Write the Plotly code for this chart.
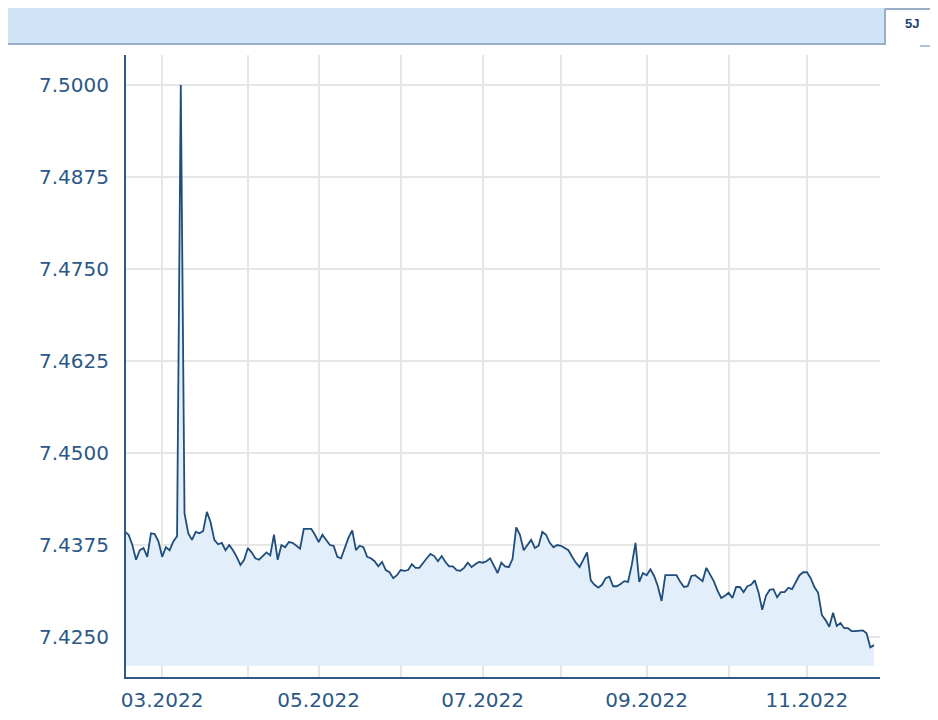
import pandas as pd
import plotly.graph_objects as go

# ---- data (daily rate, trading days) ----
START = "2022-02-15"
END = "2022-11-25"
HOLIDAYS = ["2022-04-15", "2022-04-18"]

feb_vals = [7.4393, 7.4389, 7.4375, 7.4355, 7.4368, 7.4371, 7.4359, 7.4391, 7.4390, 7.4380]
mar_vals = [7.4359, 7.4372, 7.4368, 7.4380, 7.4387, 7.5000, 7.4418, 7.4391, 7.4382, 7.4393,
            7.4391, 7.4394, 7.4420, 7.4406, 7.4382, 7.4376, 7.4378, 7.4368, 7.4375, 7.4368,
            7.4359, 7.4348, 7.4355]
apr_vals = [7.4371, 7.4365, 7.4357, 7.4355, 7.4360, 7.4365, 7.4361, 7.4389, 7.4355, 7.4375,
            7.4372, 7.4379, 7.4378, 7.4374, 7.4370, 7.4397, 7.4397, 7.4397, 7.4389]
may_vals = [7.4379, 7.4389, 7.4382, 7.4375, 7.4374, 7.4359, 7.4357, 7.4371, 7.4385, 7.4395,
            7.4368, 7.4374, 7.4372, 7.4359, 7.4357, 7.4353, 7.4346, 7.4352, 7.4341, 7.4338,
            7.4330, 7.4334]
jun_vals = [7.4341, 7.4340, 7.4341, 7.4349, 7.4344, 7.4344, 7.4351, 7.4357, 7.4363, 7.4360,
            7.4353, 7.4360, 7.4352, 7.4346, 7.4346, 7.4341, 7.4340, 7.4344, 7.4351, 7.4345,
            7.4349, 7.4352]
jul_vals = [7.4351, 7.4353, 7.4357, 7.4348, 7.4337, 7.4351, 7.4346, 7.4345, 7.4356, 7.4399,
            7.4389, 7.4368, 7.4375, 7.4382, 7.4371, 7.4374, 7.4393, 7.4389, 7.4378, 7.4372,
            7.4375]
aug_vals = [7.4374, 7.4371, 7.4368, 7.4359, 7.4351, 7.4345, 7.4355, 7.4365, 7.4327, 7.4321,
            7.4317, 7.4321, 7.4330, 7.4332, 7.4319, 7.4319, 7.4322, 7.4326, 7.4325, 7.4348,
            7.4378, 7.4325, 7.4337]
sep_vals = [7.4334, 7.4342, 7.4333, 7.4319, 7.4299, 7.4334, 7.4334, 7.4333, 7.4334, 7.4325,
            7.4318, 7.4319, 7.4333, 7.4334, 7.4330, 7.4326, 7.4344, 7.4334, 7.4326, 7.4313,
            7.4303, 7.4306]
oct_vals = [7.4310, 7.4303, 7.4318, 7.4318, 7.4311, 7.4319, 7.4321, 7.4327, 7.4311, 7.4287,
            7.4306, 7.4314, 7.4315, 7.4304, 7.4311, 7.4311, 7.4317, 7.4315, 7.4325, 7.4334,
            7.4338]
nov_vals = [7.4338, 7.4330, 7.4318, 7.4310, 7.4280, 7.4273, 7.4264, 7.4283, 7.4265, 7.4269,
            7.4262, 7.4262, 7.4258, 7.4258, 7.4259, 7.4259, 7.4255, 7.4236, 7.4239]

y_tick_vals = [7.4250, 7.4375, 7.4500, 7.4625, 7.4750, 7.4875, 7.5000]
x_tick_months = [3, 4, 5, 6, 7, 8, 9, 10, 11]
x_tick_labels = ["03.2022", "", "05.2022", "", "07.2022", "", "09.2022", "", "11.2022"]
tab_label = "5J"

# ---- build ----
values = feb_vals + mar_vals + apr_vals + may_vals + jun_vals + jul_vals + aug_vals + sep_vals + oct_vals + nov_vals
days = [d.strftime("%Y-%m-%d") for d in pd.bdate_range(START, END)
        if d.strftime("%Y-%m-%d") not in HOLIDAYS]
n = min(len(days), len(values))
days = days[:n]
values = values[:n]

tick_vals = []
for m in x_tick_months:
    for d in days:
        if int(d[5:7]) == m:
            tick_vals.append(d)
            break

FILL_BASE = 7.4211
AXIS_COL = "#2b5886"
LINE_COL = "#1f4d7c"
GRID_COL = "#e6e6e6"

fig = go.Figure()
fig.add_trace(go.Scatter(x=days, y=[FILL_BASE] * n, mode="lines",
                         line=dict(width=0, color="rgba(0,0,0,0)"),
                         hoverinfo="skip", showlegend=False))
fig.add_trace(go.Scatter(x=days, y=values, mode="lines", fill="tonexty",
                         fillcolor="#e2eef9",
                         line=dict(color=LINE_COL, width=1.8),
                         showlegend=False))

# page body has an 8px margin: figure coordinates = page coordinates - 8
OFF = 8
W, H = 938 - OFF, 720 - 2 * OFF
L, T = 126 - OFF, 55 - OFF
R = W - (880 - OFF)
B = H - (677 - OFF)
pw, ph = W - L - R, H - T - B


def px(x):  # page pixel x -> paper
    return (x - OFF - L) / pw


def py(y):  # page pixel y -> paper
    return (H - B - (y - OFF)) / ph


shapes = [
    dict(type="rect", xref="paper", yref="paper", x0=px(8), x1=px(885), y0=py(44), y1=py(8),
         fillcolor="#cfe4f7", line=dict(width=0), layer="above"),
    dict(type="line", xref="paper", yref="paper", x0=px(8), x1=px(885), y0=py(44), y1=py(44),
         line=dict(color="#98aec6", width=2)),
    dict(type="line", xref="paper", yref="paper", x0=px(885), x1=px(885), y0=py(45), y1=py(9),
         line=dict(color="#98aec6", width=2)),
    dict(type="line", xref="paper", yref="paper", x0=px(885), x1=px(938), y0=py(9), y1=py(9),
         line=dict(color="#98aec6", width=2)),
    dict(type="line", xref="paper", yref="paper", x0=px(920), x1=px(938), y0=py(46), y1=py(46),
         line=dict(color="#98aec6", width=1.5)),
]

fig.update_layout(
    width=W, height=H,
    margin=dict(l=L, r=R, t=T, b=B, autoexpand=False),
    paper_bgcolor="white", plot_bgcolor="white",
    shapes=shapes,
    annotations=[dict(text="<b>" + tab_label + "</b>", xref="paper", yref="paper",
                      x=px(912), y=py(23), xanchor="center", yanchor="middle",
                      showarrow=False,
                      font=dict(family="Liberation Sans", size=13, color="#1b3f6e"))],
    hovermode=False,
)
fig.update_xaxes(type="category", range=[0.3, 202.6], automargin=False,
                 tickvals=tick_vals, ticktext=x_tick_labels,
                 showgrid=True, gridcolor=GRID_COL, gridwidth=2,
                 showline=True, linecolor=AXIS_COL, linewidth=2,
                 ticks="", ticklabelstandoff=4,
                 tickfont=dict(family="DejaVu Sans", size=20, color=AXIS_COL),
                 zeroline=False, fixedrange=True)
fig.update_yaxes(range=[7.41957, 7.50408], tickvals=y_tick_vals, tickformat=".4f",
                 automargin=False,
                 showgrid=True, gridcolor=GRID_COL, gridwidth=2,
                 showline=True, linecolor=AXIS_COL, linewidth=2,
                 ticks="", ticklabelstandoff=11,
                 tickfont=dict(family="DejaVu Sans", size=20, color=AXIS_COL),
                 zeroline=False, fixedrange=True)

fig.write_html("out.html")
